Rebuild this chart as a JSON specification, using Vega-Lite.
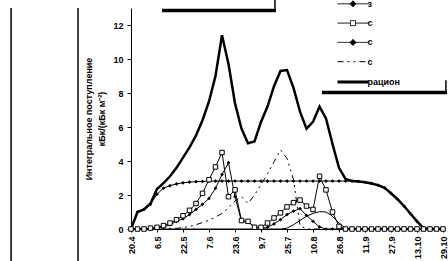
{
  "$schema": "https://vega.github.io/schema/vega-lite/v6.json",
  "autosize": "none",
  "width": 312,
  "height": 221,
  "padding": {"left": 131, "top": 8, "right": 5, "bottom": 32},
  "background": "white",
  "config": {
    "view": {"stroke": null},
    "font": "Liberation Sans",
    "axis": {"labelOverlap": false, "labelBound": false}
  },
  "datasets": {
    "rows": [
      {"day":0,"зелёная масса":0,"сено":0,"силос":0,"сенаж":0,"рацион":0,"другое":0},
      {"day":4,"зелёная масса":1.0,"сено":0,"силос":0,"сенаж":0,"рацион":1.0,"другое":0},
      {"day":8,"зелёная масса":1.15,"сено":0,"силос":0,"сенаж":0,"рацион":1.15,"другое":0},
      {"day":12,"зелёная масса":1.45,"сено":0.05,"силос":0.03,"сенаж":0,"рацион":1.5,"другое":0},
      {"day":16,"зелёная масса":2.05,"сено":0.1,"силос":0.06,"сенаж":0,"рацион":2.35,"другое":0},
      {"day":20,"зелёная масса":2.4,"сено":0.2,"силос":0.12,"сенаж":0,"рацион":2.7,"другое":0},
      {"day":24,"зелёная масса":2.55,"сено":0.35,"силос":0.25,"сенаж":0.02,"рацион":3.1,"другое":0},
      {"day":28,"зелёная масса":2.65,"сено":0.55,"силос":0.45,"сенаж":0.04,"рацион":3.6,"другое":0},
      {"day":32,"зелёная масса":2.72,"сено":0.78,"силос":0.6,"сенаж":0.08,"рацион":4.2,"другое":0},
      {"day":36,"зелёная масса":2.76,"сено":1.1,"силос":0.85,"сенаж":0.15,"рацион":4.8,"другое":0},
      {"day":40,"зелёная масса":2.78,"сено":1.5,"силос":1.15,"сенаж":0.25,"рацион":5.5,"другое":0},
      {"day":44,"зелёная масса":2.8,"сено":2.1,"силос":1.45,"сенаж":0.38,"рацион":6.4,"другое":0},
      {"day":48,"зелёная масса":2.81,"сено":2.9,"силос":1.8,"сенаж":0.52,"рацион":7.5,"другое":0},
      {"day":52,"зелёная масса":2.82,"сено":3.65,"силос":2.4,"сенаж":0.7,"рацион":9.0,"другое":0},
      {"day":56,"зелёная масса":2.82,"сено":4.5,"силос":3.2,"сенаж":0.92,"рацион":11.4,"другое":0},
      {"day":60,"зелёная масса":2.82,"сено":1.9,"силос":3.9,"сенаж":1.25,"рацион":9.7,"другое":0},
      {"day":64,"зелёная масса":2.82,"сено":2.3,"силос":1.9,"сенаж":1.65,"рацион":7.4,"другое":0},
      {"day":68,"зелёная масса":2.82,"сено":0.5,"силос":0.45,"сенаж":1.9,"рацион":5.9,"другое":0},
      {"day":72,"зелёная масса":2.82,"сено":0.45,"силос":0.4,"сенаж":1.5,"рацион":5.05,"другое":0},
      {"day":76,"зелёная масса":2.82,"сено":0.1,"силос":0.15,"сенаж":2.0,"рацион":5.15,"другое":0},
      {"day":80,"зелёная масса":2.82,"сено":0.1,"силос":0.03,"сенаж":2.6,"рацион":6.3,"другое":0},
      {"day":84,"зелёная масса":2.82,"сено":0.35,"силос":0.1,"сенаж":3.25,"рацион":7.2,"другое":0},
      {"day":88,"зелёная масса":2.82,"сено":0.65,"силос":0.3,"сенаж":3.95,"рацион":8.4,"другое":0},
      {"day":92,"зелёная масса":2.82,"сено":0.95,"силос":0.55,"сенаж":4.65,"рацион":9.3,"другое":0},
      {"day":96,"зелёная масса":2.82,"сено":1.3,"силос":0.85,"сенаж":4.15,"рацион":9.35,"другое":0.05},
      {"day":100,"зелёная масса":2.82,"сено":1.55,"силос":1.05,"сенаж":2.9,"рацион":8.3,"другое":0.25},
      {"day":104,"зелёная масса":2.82,"сено":1.7,"силос":1.2,"сенаж":0.2,"рацион":6.9,"другое":0.5},
      {"day":108,"зелёная масса":2.82,"сено":1.35,"силос":0.8,"сенаж":0,"рацион":5.9,"другое":0.75},
      {"day":112,"зелёная масса":2.82,"сено":1.15,"силос":0.45,"сенаж":0,"рацион":6.3,"другое":0.92},
      {"day":116,"зелёная масса":2.82,"сено":3.1,"силос":0.12,"сенаж":0,"рацион":7.2,"другое":1.02},
      {"day":120,"зелёная масса":2.82,"сено":2.3,"силос":0,"сенаж":0,"рацион":6.5,"другое":1.0},
      {"day":124,"зелёная масса":2.82,"сено":1.0,"силос":0,"сенаж":0,"рацион":5.0,"другое":0.75},
      {"day":128,"зелёная масса":2.82,"сено":0.15,"силос":0,"сенаж":0,"рацион":3.6,"другое":0.35},
      {"day":132,"зелёная масса":2.82,"сено":0,"силос":0,"сенаж":0,"рацион":2.95,"другое":0.05},
      {"day":136,"зелёная масса":2.82,"сено":0,"силос":0,"сенаж":0,"рацион":2.82,"другое":0},
      {"day":140,"зелёная масса":2.8,"сено":0,"силос":0,"сенаж":0,"рацион":2.8,"другое":0},
      {"day":144,"зелёная масса":2.75,"сено":0,"силос":0,"сенаж":0,"рацион":2.75,"другое":0},
      {"day":148,"зелёная масса":2.68,"сено":0,"силос":0,"сенаж":0,"рацион":2.68,"другое":0},
      {"day":152,"зелёная масса":2.58,"сено":0,"силос":0,"сенаж":0,"рацион":2.58,"другое":0},
      {"day":156,"зелёная масса":2.42,"сено":0,"силос":0,"сенаж":0,"рацион":2.42,"другое":0},
      {"day":160,"зелёная масса":2.1,"сено":0,"силос":0,"сенаж":0,"рацион":2.1,"другое":0},
      {"day":164,"зелёная масса":1.75,"сено":0,"силос":0,"сенаж":0,"рацион":1.75,"другое":0},
      {"day":168,"зелёная масса":1.35,"сено":0,"силос":0,"сенаж":0,"рацион":1.35,"другое":0},
      {"day":172,"зелёная масса":0.9,"сено":0,"силос":0,"сенаж":0,"рацион":0.9,"другое":0},
      {"day":176,"зелёная масса":0.45,"сено":0,"силос":0,"сенаж":0,"рацион":0.45,"другое":0},
      {"day":180,"зелёная масса":0.05,"сено":0,"силос":0,"сенаж":0,"рацион":0.05,"другое":0},
      {"day":184,"зелёная масса":0,"сено":0,"силос":0,"сенаж":0,"рацион":0,"другое":0},
      {"day":188,"зелёная масса":0,"сено":0,"силос":0,"сенаж":0,"рацион":0,"другое":0},
      {"day":192,"зелёная масса":0,"сено":0,"силос":0,"сенаж":0,"рацион":0,"другое":0}
    ],
    "frameThick": [
      {"x":19.1,"x2":89.2,"y":12.85,"y2":12.85},
      {"x":117.5,"x2":194.5,"y":8.03,"y2":8.03}
    ],
    "frameThin": [
      {"x":88.6,"x2":88.6,"y":13.5,"y2":12.85},
      {"x":193.8,"x2":193.8,"y":8.75,"y2":8.03},
      {"x":-73.8,"x2":-73.8,"y":13,"y2":-2},
      {"x":-32.6,"x2":-32.6,"y":13,"y2":-2}
    ]
  },
  "layer": [
    {
      "data": {"name": "rows"},
      "transform": [
        {"fold": ["зелёная масса","сено","силос"], "as": ["series","value"]}
      ],
      "mark": {"type": "line", "color": "black", "strokeWidth": 1},
      "encoding": {
        "x": {
          "field": "day", "type": "quantitative",
          "scale": {"domain": [0,192], "nice": false, "zero": false},
          "axis": {
            "title": null,
            "values": [0,16,32,48,64,80,96,112,128,144,160,176,192],
            "tickCount": 20,
            "labelExpr": "['20.4','6.5','22.5','7.6','23.6','9.7','25.7','10.8','26.8','11.9','27.9','13.10','29.10'][round(datum.value/16)]",
            "labelAngle": -90,
            "labelFlush": false,
            "labelOverlap": false,
            "labelFontSize": 9,
            "labelFontWeight": "bold",
            "labelColor": "black",
            "labelPadding": 4,
            "tickSize": 3,
            "tickColor": "black",
            "domainColor": "black",
            "grid": false
          }
        },
        "y": {
          "field": "value", "type": "quantitative",
          "scale": {"domain": [0,13], "nice": false},
          "axis": {
            "title": ["Интегральное поступление", "кБк/(кБк м⁻²)"],
            "titleFontSize": 9,
            "titleFontWeight": "bold",
            "titleColor": "black",
            "titleLineHeight": 13,
            "titlePadding": 6,
            "values": [0,2,4,6,8,10,12],
            "tickCount": 20,
            "format": "d",
            "labelOverlap": false,
            "labelFontSize": 9,
            "labelFontWeight": "bold",
            "labelColor": "black",
            "labelPadding": 4,
            "tickSize": 4,
            "tickColor": "black",
            "domainColor": "black",
            "grid": false
          }
        },
        "detail": {"field": "series", "type": "nominal"}
      }
    },
    {
      "data": {"name": "rows"},
      "mark": {"type": "line", "color": "black", "strokeWidth": 1, "strokeDash": [6,4,2,4,2,4]},
      "encoding": {
        "x": {"field": "day", "type": "quantitative"},
        "y": {"field": "сенаж", "type": "quantitative"}
      }
    },
    {
      "data": {"name": "rows"},
      "mark": {"type": "line", "color": "black", "strokeWidth": 1},
      "encoding": {
        "x": {"field": "day", "type": "quantitative"},
        "y": {"field": "другое", "type": "quantitative"}
      }
    },
    {
      "data": {"name": "rows"},
      "mark": {"type": "line", "color": "black", "strokeWidth": 2.5},
      "encoding": {
        "x": {"field": "day", "type": "quantitative"},
        "y": {"field": "рацион", "type": "quantitative"}
      }
    },
    {
      "data": {"name": "rows"},
      "transform": [
        {"fold": ["зелёная масса","силос"], "as": ["series","value"]}
      ],
      "mark": {"type": "point", "shape": "diamond", "filled": true, "color": "black", "size": 14, "opacity": 1},
      "encoding": {
        "x": {"field": "day", "type": "quantitative"},
        "y": {"field": "value", "type": "quantitative"},
        "detail": {"field": "series"}
      }
    },
    {
      "data": {"name": "rows"},
      "mark": {"type": "point", "shape": "square", "filled": false, "fill": "white", "fillOpacity": 1, "stroke": "black", "strokeWidth": 1, "size": 20, "opacity": 1},
      "encoding": {
        "x": {"field": "day", "type": "quantitative"},
        "y": {"field": "сено", "type": "quantitative"}
      }
    },
    {
      "data": {"values": []},
      "mark": {"type": "point", "opacity": 1},
      "encoding": {
        "shape": {
          "field": "series", "type": "nominal",
          "scale": {
            "domain": ["зелёная масса","сено","силос","сенаж","рацион"],
            "range": [
              "M-3.1,0H3.1M0,-0.6L0.6,0L0,0.6L-0.6,0Z",
              "M-3.1,0H-0.5M0.5,0H3.1M-0.5,-0.5H0.5V0.5H-0.5Z",
              "M-3.1,0H3.1M0,-0.6L0.6,0L0,0.6L-0.6,0Z",
              "M-3.1,0H3.1",
              "M-3.1,0H3.1"
            ]
          },
          "legend": {
            "orient": "none",
            "legendX": 215.5,
            "legendY": -9.7,
            "title": null,
            "symbolSize": 100,
            "labelOffset": 8,
            "rowPadding": 8.3,
            "labelFontSize": 9,
            "labelFontWeight": "bold",
            "labelColor": "black",
            "symbolOpacity": 1,
            "labelExpr": "datum.label == 'рацион' ? 'рацион' : slice(datum.label, 0, 1)"
          }
        },
        "fill": {
          "field": "series", "type": "nominal",
          "scale": {
            "domain": ["зелёная масса","сено","силос","сенаж","рацион"],
            "range": ["black","white","black","black","black"]
          },
          "legend": {
            "orient": "none",
            "legendX": 215.5,
            "legendY": -9.7,
            "title": null,
            "labelExpr": "datum.label == 'рацион' ? 'рацион' : slice(datum.label, 0, 1)"
          }
        },
        "stroke": {
          "field": "series", "type": "nominal",
          "scale": {
            "domain": ["зелёная масса","сено","силос","сенаж","рацион"],
            "range": ["black","black","black","black","black"]
          },
          "legend": {
            "orient": "none",
            "legendX": 215.5,
            "legendY": -9.7,
            "title": null,
            "labelExpr": "datum.label == 'рацион' ? 'рацион' : slice(datum.label, 0, 1)"
          }
        },
        "strokeWidth": {
          "field": "series", "type": "nominal",
          "scale": {
            "type": "ordinal",
            "domain": ["зелёная масса","сено","силос","сенаж","рацион"],
            "range": [1,1,1,1,3]
          },
          "legend": {
            "orient": "none",
            "legendX": 215.5,
            "legendY": -9.7,
            "title": null,
            "labelExpr": "datum.label == 'рацион' ? 'рацион' : slice(datum.label, 0, 1)"
          }
        },
        "strokeDash": {
          "field": "series", "type": "nominal",
          "scale": {
            "domain": ["зелёная масса","сено","силос","сенаж","рацион"],
            "range": [[1,0],[1,0],[1,0],[6,4,2,4,2,4],[1,0]]
          },
          "legend": {
            "orient": "none",
            "legendX": 215.5,
            "legendY": -9.7,
            "title": null,
            "labelExpr": "datum.label == 'рацион' ? 'рацион' : slice(datum.label, 0, 1)"
          }
        }
      }
    },
    {
      "data": {"name": "frameThick"},
      "mark": {"type": "rule", "color": "black", "strokeWidth": 3.5},
      "encoding": {
        "x": {"field": "x", "type": "quantitative"},
        "x2": {"field": "x2"},
        "y": {"field": "y", "type": "quantitative"},
        "y2": {"field": "y2"}
      }
    },
    {
      "data": {"name": "frameThin"},
      "mark": {"type": "rule", "color": "black", "strokeWidth": 1.5},
      "encoding": {
        "x": {"field": "x", "type": "quantitative"},
        "x2": {"field": "x2"},
        "y": {"field": "y", "type": "quantitative"},
        "y2": {"field": "y2"}
      }
    }
  ]
}
